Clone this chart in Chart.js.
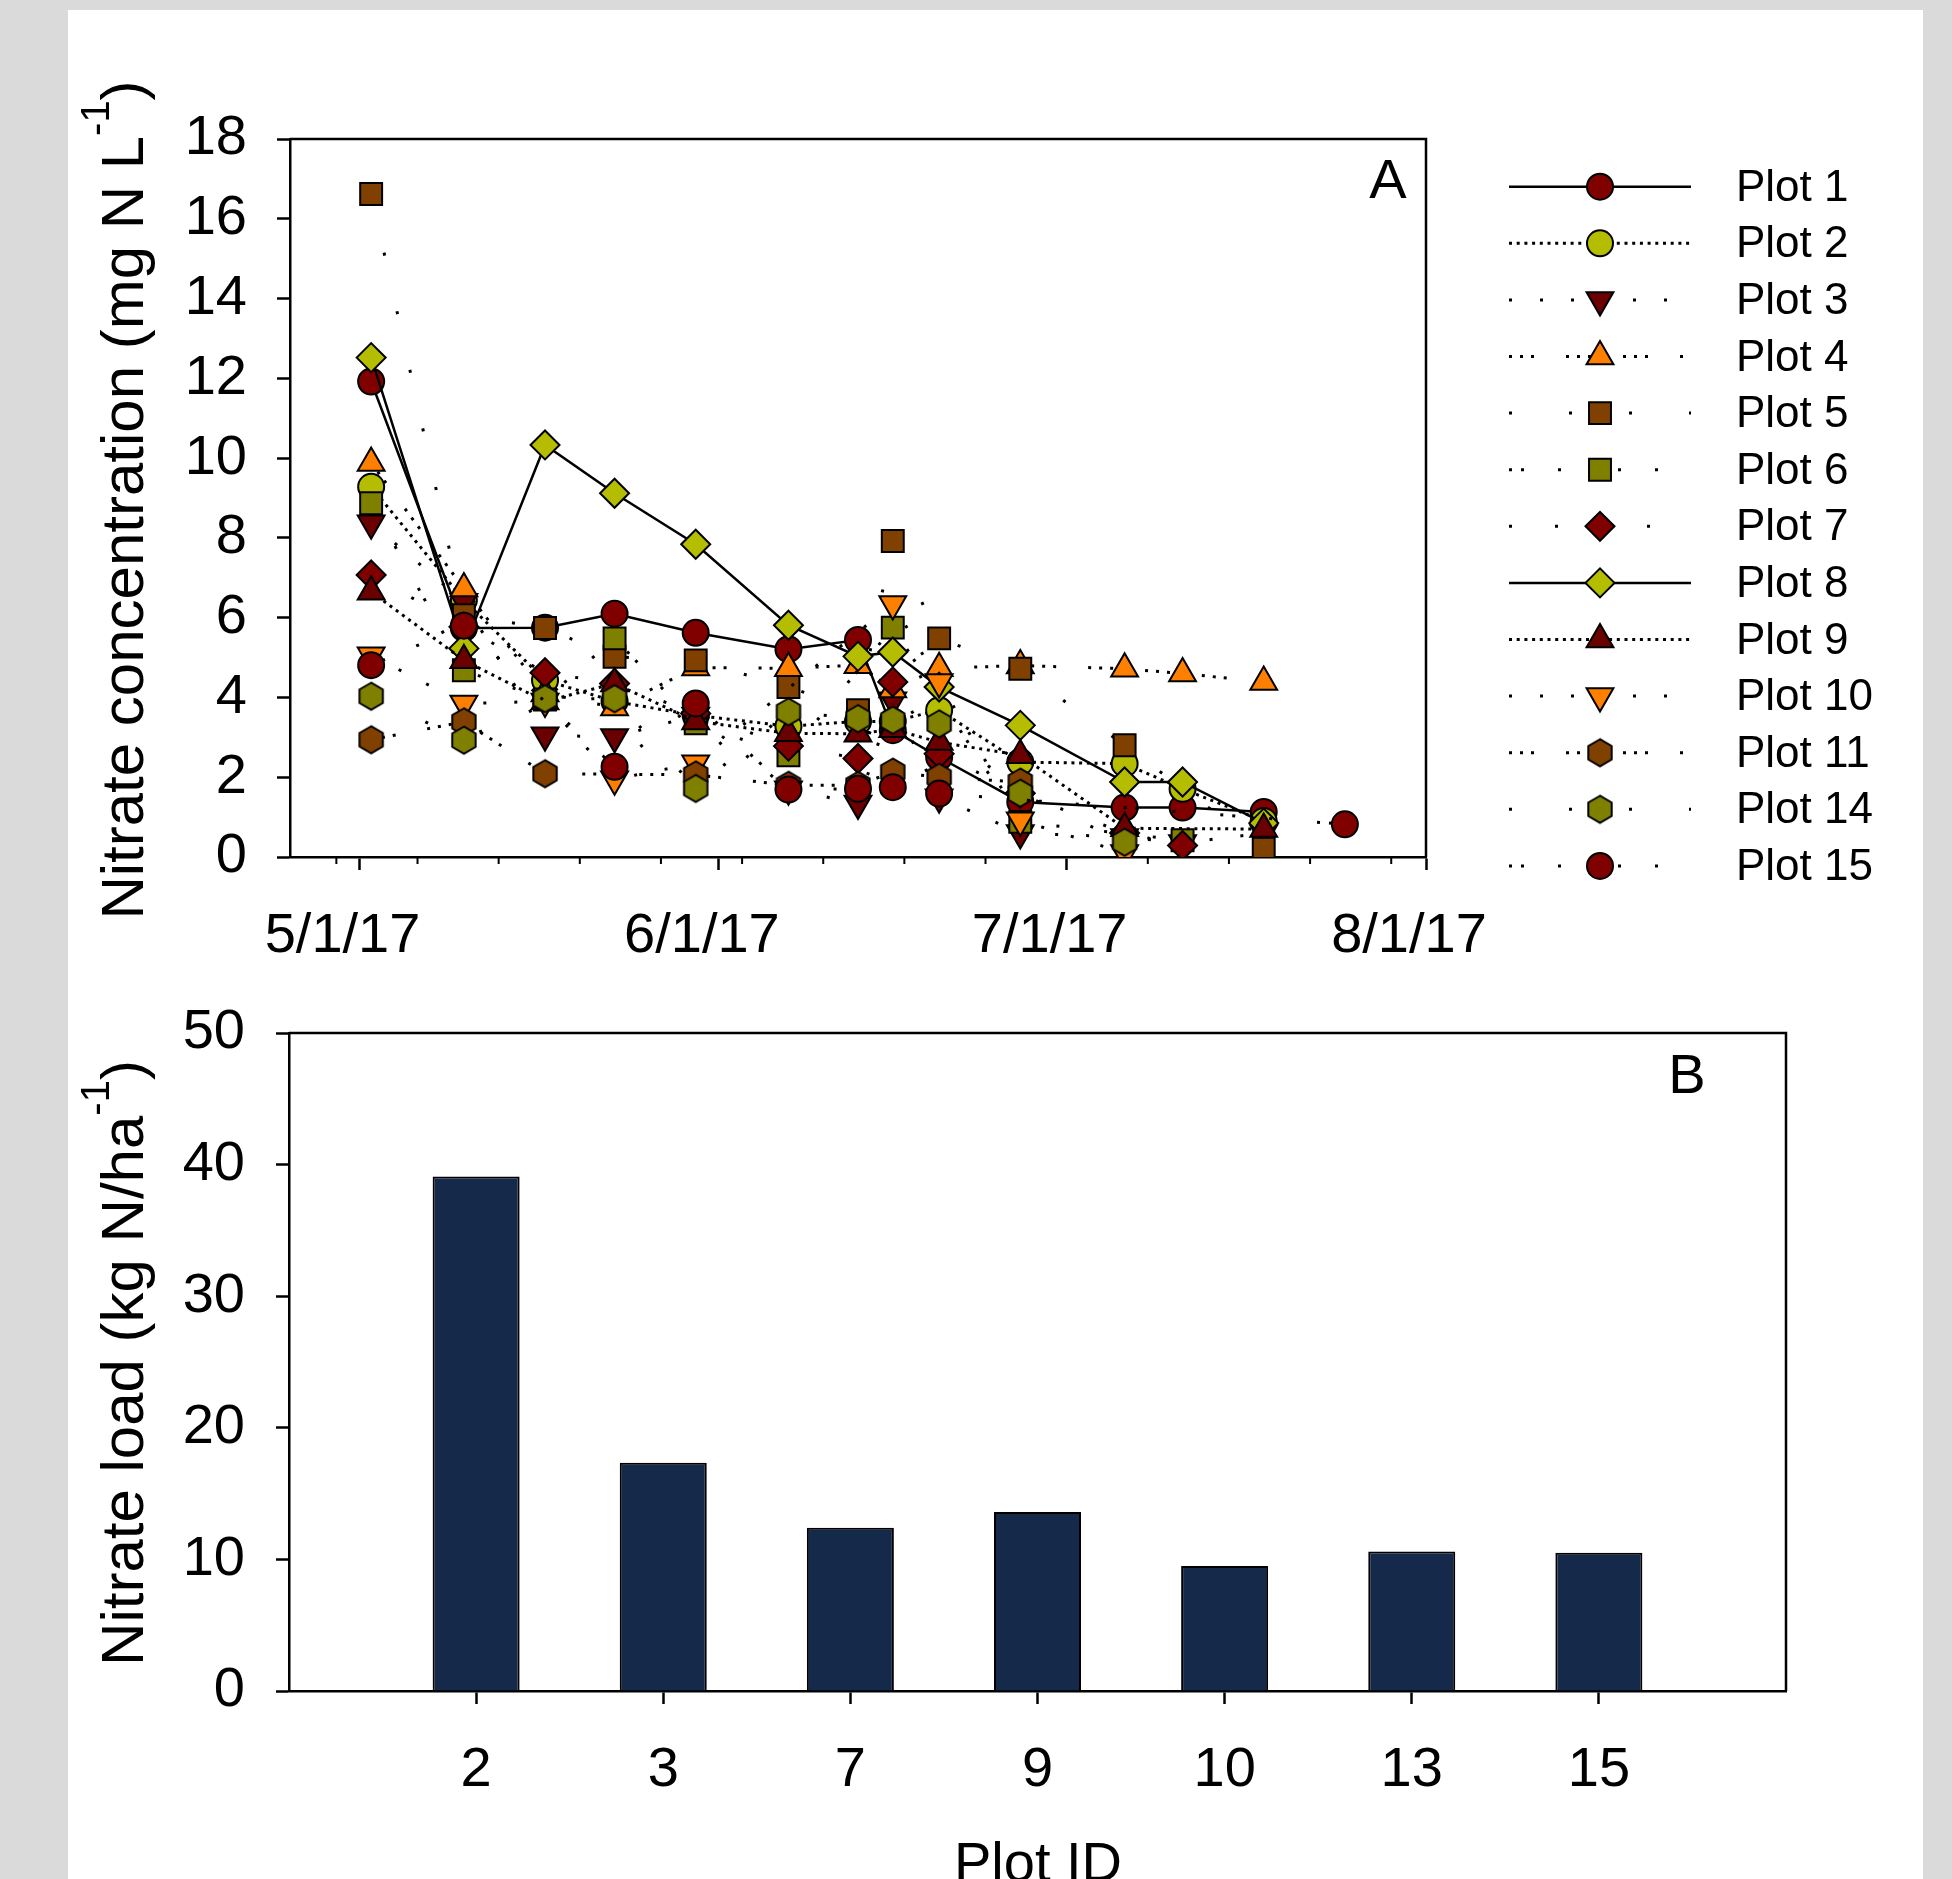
<!DOCTYPE html>
<html>
<head>
<meta charset="utf-8">
<script src="https://cdn.jsdelivr.net/npm/chart.js@4.4.0/dist/chart.umd.min.js"></script>
<style>
  html, body { margin:0; padding:0; background:#dadada; width:1952px; height:1879px; overflow:hidden; }
  #panel { position:absolute; left:68px; top:10px; width:1855px; height:1869px; background:#fff; }
  #top { position:absolute; left:0; top:0; }
  #bot { position:absolute; left:0; top:890px; }
</style>
</head>
<body>
<div id="panel"></div>
<canvas id="top" width="1952" height="990" style="width:1952px;height:990px"></canvas>
<canvas id="bot" width="1952" height="989" style="width:1952px;height:989px"></canvas>
<script>
// ---------- data: panel A (days after 5/1/17) ----------
const sampleDays   = [1, 9, 16, 22, 29, 37, 43, 46, 50, 57, 66, 71, 78, 85];
const xMajorDays   = [0, 31, 61, 92];
const xMajorLabels = ["5/1/17", "6/1/17", "7/1/17", "8/1/17"];
const xMinorDays   = [-2, 5, 12, 19, 26, 33, 40, 47, 54, 68, 75, 82, 89];
const plotNames = ["Plot 1","Plot 2","Plot 3","Plot 4","Plot 5","Plot 6","Plot 7",
                   "Plot 8","Plot 9","Plot 10","Plot 11","Plot 14","Plot 15"];

const plot1  = [11.92, 5.74, 5.75, 6.10, 5.62, 5.21, 5.44, 3.18, 2.50, 1.38, 1.24, 1.24, 1.13, null];
const plot2  = [9.28, 6.44, 4.43, 3.90, 3.55, 3.28, 3.40, 3.40, 3.68, 2.38, 2.34, 1.71, 0.90, null];
const plot3  = [8.37, 6.40, 3.05, 3.01, 3.55, 1.70, 1.34, 3.93, 1.50, 0.60, 0.50, 0.35, 0.60, null];
const plot4  = [9.88, 6.73, 4.10, 3.75, 4.75, 4.73, 4.81, 4.20, 4.73, 4.80, 4.72, 4.60, 4.39, null];
const plot5  = [16.62, 6.06, 5.74, 5.02, 4.93, 4.26, 3.68, 7.92, 5.48, 4.72, 2.80, null, 0.21, null];
const plot6  = [8.87, 4.68, 3.95, 5.48, 3.35, 2.55, null, 5.75, null, 0.88, null, 0.42, null, null];
const plot7  = [7.07, 5.77, 4.62, 4.35, 3.60, 2.78, 2.47, 4.39, 2.59, 1.60, 0.60, 0.29, null, null];
const plot8  = [12.52, 5.23, 10.33, 9.12, 7.84, 5.81, 5.03, 5.14, 4.26, 3.30, 1.88, 1.88, 0.85, null];
const plot9  = [6.65, 4.93, 3.90, 4.35, 3.40, 3.10, 3.09, 3.20, 2.88, 2.55, 0.72, null, 0.70, null];
const plot10 = [5.06, 3.85, 3.90, 1.95, 2.35, null, null, 6.34, 4.39, 0.92, 0.10, null, null, null];
const plot11 = [2.94, 3.39, 2.09, null, 2.06, 1.80, 1.80, 2.13, 2.00, 1.88, null, null, null, null];
const plot14 = [4.03, 2.93, 3.97, 3.97, 1.72, 3.64, 3.47, 3.43, 3.34, 1.60, 0.37, null, null, null];
const plot15 = [4.81, 5.80, null, 2.26, 3.85, 1.69, 1.71, 1.75, 1.59, null, null, null, null, 0.82];
const allPlots = [plot1, plot2, plot3, plot4, plot5, plot6, plot7, plot8, plot9, plot10, plot11, plot14, plot15];

// ---------- data: panel B ----------
const plotIds      = ["2", "3", "7", "9", "10", "13", "15"];
const nitrateLoad  = [39.1, 17.35, 12.4, 13.6, 9.5, 10.6, 10.5];

// ---------- styles ----------
const FONT = "'Liberation Sans', Arial, Helvetica, sans-serif";
const col = { dred:"#800000", dred2:"#6b0000", yg:"#b5bd00", orange:"#ff8000", brown:"#804000", olive:"#808000" };
const DOT = [3, 4.7], SP3 = [3, 28], GRP = [3, 8, 3, 8, 3, 32], SP5 = [3, 57], PAIR = [3, 9, 3, 34, 3, 45], SP7 = [3, 43];
const styles = [
  { c: col.dred,   shape: "circle",   dash: [] },
  { c: col.yg,     shape: "circle",   dash: DOT },
  { c: col.dred2,  shape: "down",     dash: SP3 },
  { c: col.orange, shape: "triangle", dash: GRP },
  { c: col.brown,  shape: "rect",     dash: SP5 },
  { c: col.olive,  shape: "rect",     dash: PAIR },
  { c: col.dred,   shape: "rectRot",  dash: SP7 },
  { c: col.yg,     shape: "rectRot",  dash: [] },
  { c: col.dred2,  shape: "triangle", dash: DOT },
  { c: col.orange, shape: "down",     dash: SP3 },
  { c: col.brown,  shape: "hex",      dash: GRP },
  { c: col.olive,  shape: "hex",      dash: SP5 },
  { c: col.dred,   shape: "circle",   dash: PAIR }
];
const radiusOf = { circle: 13, triangle: 15.5, down: 15.5, rect: 15.5, rectRot: 14.5, hex: 13 };

function hexCanvas(fill) {
  const c = document.createElement("canvas");
  c.width = 30; c.height = 32;
  const g = c.getContext("2d");
  g.beginPath();
  for (let k = 0; k < 6; k++) {
    const a = Math.PI / 2 + k * Math.PI / 3;
    const px = 15 + 13.5 * Math.cos(a), py = 16 - 13.5 * Math.sin(a);
    if (k) g.lineTo(px, py); else g.moveTo(px, py);
  }
  g.closePath();
  g.fillStyle = fill; g.fill();
  g.lineWidth = 2; g.strokeStyle = "#000"; g.stroke();
  return c;
}
function pointStyleOf(st) {
  if (st.shape === "hex") return hexCanvas(st.c);
  if (st.shape === "down") return "triangle";
  return st.shape;
}

Chart.defaults.font.family = FONT;
Chart.defaults.color = "#000";

const axisGrid = { drawOnChartArea: false, drawTicks: true, tickLength: 13, tickWidth: 2.5, tickColor: "#000" };
const axisBorder = { display: true, color: "#000", width: 2.5 };

// rotated axis title with superscript
function drawRotTitle(ctx, parts, xBase, yCenter, size) {
  const main = size + "px " + FONT, sup = Math.round(size * 0.66) + "px " + FONT;
  ctx.save();
  let total = 0;
  const w = parts.map(p => { ctx.font = p.sup ? sup : main; const m = ctx.measureText(p.t).width; total += m; return m; });
  ctx.translate(xBase, yCenter);
  ctx.rotate(-Math.PI / 2);
  ctx.fillStyle = "#000";
  ctx.textAlign = "left";
  ctx.textBaseline = "alphabetic";
  let x = -total / 2;
  parts.forEach((p, i) => {
    ctx.font = p.sup ? sup : main;
    ctx.fillText(p.t, x, p.sup ? -size * 0.56 : 0);
    x += w[i];
  });
  ctx.restore();
}

function drawMarker(ctx, st, x, y) {
  ctx.save();
  ctx.fillStyle = st.c; ctx.strokeStyle = "#000"; ctx.lineWidth = 2;
  const opts = { pointStyle: pointStyleOf(st), radius: radiusOf[st.shape], rotation: st.shape === "down" ? 180 : 0, borderWidth: 2 };
  if (Chart.helpers && Chart.helpers.drawPoint) {
    Chart.helpers.drawPoint(ctx, opts, x, y);
  } else {
    ctx.beginPath(); ctx.arc(x, y, 13, 0, Math.PI * 2); ctx.fill(); ctx.stroke();
  }
  ctx.restore();
}

const topDecor = {
  id: "topDecor",
  afterDraw(chart) {
    const ctx = chart.ctx, a = chart.chartArea, xs = chart.scales.x;
    ctx.save();
    // frame top/right
    ctx.strokeStyle = "#000"; ctx.lineWidth = 2.5;
    ctx.beginPath();
    ctx.moveTo(a.left, a.top); ctx.lineTo(a.right, a.top); ctx.lineTo(a.right, a.bottom);
    ctx.stroke();
    // weekly minor ticks
    ctx.lineWidth = 2;
    xMinorDays.forEach(d => {
      const px = xs.getPixelForValue(d);
      ctx.beginPath(); ctx.moveTo(px, a.bottom); ctx.lineTo(px, a.bottom + 7); ctx.stroke();
    });
    // panel letter
    ctx.fillStyle = "#000";
    ctx.font = "56px " + FONT; ctx.textAlign = "center"; ctx.textBaseline = "alphabetic";
    ctx.fillText("A", 1388, 198);
    ctx.restore();

    drawRotTitle(ctx, [{ t: "Nitrate concentration (mg N L" }, { t: "-1", sup: true }, { t: ")" }], 143, 500, 60);

    // legend
    const rowTop = 186.7, rowStep = 56.6;
    styles.forEach((st, i) => {
      const y = rowTop + i * rowStep;
      ctx.save();
      ctx.strokeStyle = "#000";
      ctx.lineWidth = st.dash.length ? 3 : 2.5;
      ctx.setLineDash(st.dash);
      ctx.beginPath(); ctx.moveTo(1509, y); ctx.lineTo(1691, y); ctx.stroke();
      ctx.restore();
      drawMarker(ctx, st, 1600, y);
      ctx.save();
      ctx.fillStyle = "#000"; ctx.font = "44px " + FONT;
      ctx.textAlign = "left"; ctx.textBaseline = "middle";
      ctx.fillText(plotNames[i], 1736, y + 2);
      ctx.restore();
    });
  }
};

new Chart(document.getElementById("top"), {
  type: "scatter",
  data: {
    datasets: allPlots.map((vals, i) => {
      const st = styles[i];
      return {
        label: plotNames[i],
        data: sampleDays.map((d, j) => ({ x: d, y: vals[j] })),
        showLine: true,
        spanGaps: true,
        tension: 0,
        borderColor: "#000",
        borderWidth: st.dash.length ? 3 : 2.5,
        borderDash: st.dash,
        pointStyle: pointStyleOf(st),
        pointRadius: radiusOf[st.shape],
        pointRotation: st.shape === "down" ? 180 : 0,
        pointBackgroundColor: st.c,
        pointBorderColor: "#000",
        pointBorderWidth: 2,
        order: allPlots.length - i
      };
    })
  },
  options: {
    responsive: false,
    animation: false,
    devicePixelRatio: 1,
    layout: { padding: { left: 0, top: 139, right: 526, bottom: 0 } },
    plugins: { legend: { display: false }, tooltip: { enabled: false } },
    scales: {
      x: {
        type: "linear", min: -6, max: 92,
        afterBuildTicks: s => { s.ticks = xMajorDays.map(v => ({ value: v })); },
        afterFit: s => { s.height = 133; },
        ticks: {
          callback: v => xMajorLabels[xMajorDays.indexOf(v)],
          font: { size: 56 }, color: "#000", padding: 33, labelOffset: -17,
          maxRotation: 0, autoSkip: false
        },
        grid: axisGrid, border: axisBorder
      },
      y: {
        min: 0, max: 18,
        afterFit: s => { s.width = 290; },
        ticks: { stepSize: 2, font: { size: 56 }, color: "#000", padding: 30 },
        grid: axisGrid, border: axisBorder
      }
    }
  },
  plugins: [topDecor]
});

// ---------- panel B ----------
const BOT_TOP = 890;   // page offset of the lower canvas
const botDecor = {
  id: "botDecor",
  afterDraw(chart) {
    const ctx = chart.ctx, a = chart.chartArea;
    ctx.save();
    ctx.strokeStyle = "#000"; ctx.lineWidth = 2.5;
    ctx.beginPath();
    ctx.moveTo(a.left, a.top); ctx.lineTo(a.right, a.top); ctx.lineTo(a.right, a.bottom);
    ctx.stroke();
    ctx.fillStyle = "#000";
    ctx.font = "56px " + FONT; ctx.textAlign = "center"; ctx.textBaseline = "alphabetic";
    ctx.fillText("B", 1687, 1093 - BOT_TOP);
    ctx.fillText("Plot ID", 1038, 1881 - BOT_TOP);
    ctx.restore();
    drawRotTitle(ctx, [{ t: "Nitrate load (kg N/ha" }, { t: "-1", sup: true }, { t: ")" }], 143, 1363 - BOT_TOP, 60);
  }
};

new Chart(document.getElementById("bot"), {
  type: "bar",
  data: {
    datasets: [{
      label: "Nitrate load",
      data: plotIds.map((id, i) => ({ x: i + 1, y: nitrateLoad[i] })),
      backgroundColor: "#15294b",
      borderColor: "#000",
      borderWidth: 2,
      barPercentage: 0.465,
      categoryPercentage: 1
    }]
  },
  options: {
    responsive: false,
    animation: false,
    devicePixelRatio: 1,
    layout: { padding: { left: 0, top: 1033 - BOT_TOP, right: 166, bottom: 0 } },
    plugins: { legend: { display: false }, tooltip: { enabled: false } },
    scales: {
      x: {
        type: "linear", min: 0, max: 8, offset: false,
        afterBuildTicks: s => { s.ticks = plotIds.map((_, i) => ({ value: i + 1 })); },
        afterFit: s => { s.height = 989 - (1691 - BOT_TOP); },
        ticks: { callback: v => plotIds[v - 1], font: { size: 56 }, color: "#000", padding: 33, maxRotation: 0, autoSkip: false },
        grid: Object.assign({}, axisGrid, { offset: false }), border: axisBorder
      },
      y: {
        min: 0, max: 50,
        afterFit: s => { s.width = 289; },
        ticks: { stepSize: 10, font: { size: 56 }, color: "#000", padding: 31 },
        grid: axisGrid, border: axisBorder
      }
    }
  },
  plugins: [botDecor]
});
</script>
</body>
</html>
